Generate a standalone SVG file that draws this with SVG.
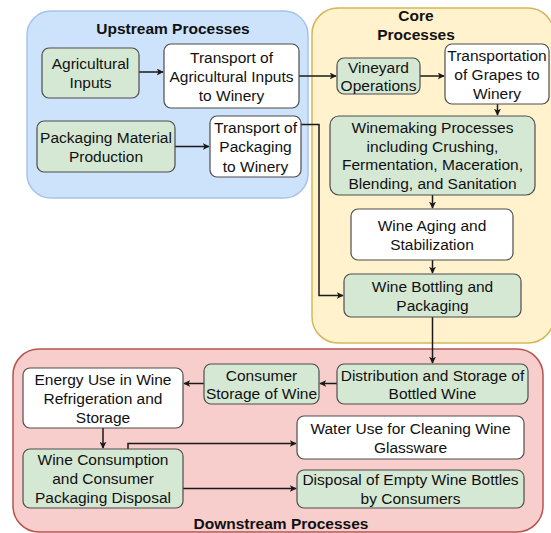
<svg xmlns="http://www.w3.org/2000/svg" width="551" height="533" viewBox="0 0 551 533">
<style>
text{font-family:"Liberation Sans",Arial,sans-serif;font-size:15.5px;fill:#111;text-anchor:middle}
.title{font-weight:bold}
.g{fill:#d5e8d4;stroke:#4d4d4d;stroke-width:1.2}
.w{fill:#ffffff;stroke:#4d4d4d;stroke-width:1.2}
.edge{fill:none;stroke:#1a1a1a;stroke-width:1.5}
</style>
<defs>
<marker id="arr" viewBox="0 0 10 10" refX="9" refY="5" markerWidth="7" markerHeight="7" markerUnits="userSpaceOnUse" orient="auto">
<path d="M0,0 L10,5 L0,10 L2.5,5 Z" fill="#1a1a1a"/>
</marker>
</defs>
<g id="upstream">
<rect x="27" y="11" width="281" height="187" rx="24" fill="#cce3fb" stroke="#a6c3ea" stroke-width="1.5"/>
<text class="title" x="173" y="33.5">Upstream Processes</text>
</g>
<g id="core">
<rect x="312" y="8" width="242" height="335" rx="26" fill="#fff2cc" stroke="#d6b656" stroke-width="1.5"/>
<text class="title" x="416" y="20.5">Core</text>
<text class="title" x="416" y="39.5">Processes</text>
</g>
<g id="downstream">
<rect x="13" y="349" width="530" height="183" rx="26" fill="#f8cecc" stroke="#b85450" stroke-width="1.5"/>
<text class="title" x="281" y="528.5">Downstream Processes</text>
</g>
<g id="connectors">
<path class="edge" d="M139,72 H163" marker-end="url(#arr)"/>
<path class="edge" d="M175,146.5 H209" marker-end="url(#arr)"/>
<path class="edge" d="M299,76 H336" marker-end="url(#arr)"/>
<path class="edge" d="M420,76 H444" marker-end="url(#arr)"/>
<path class="edge" d="M497.5,104 V115" marker-end="url(#arr)"/>
<path class="edge" d="M301,124.5 H319 V295.5 H343" marker-end="url(#arr)"/>
<path class="edge" d="M432.5,195 V208" marker-end="url(#arr)"/>
<path class="edge" d="M432.5,260 V273" marker-end="url(#arr)"/>
<path class="edge" d="M432.5,317 V363" marker-end="url(#arr)"/>
<path class="edge" d="M337,383.5 H320" marker-end="url(#arr)"/>
<path class="edge" d="M204,383.5 H184" marker-end="url(#arr)"/>
<path class="edge" d="M103,428 V448" marker-end="url(#arr)"/>
<path class="edge" d="M128,449 V443.5 H296" marker-end="url(#arr)"/>
<path class="edge" d="M183,488.5 H296" marker-end="url(#arr)"/>
</g>
<g id="agricultural-inputs">
<rect class="g" x="42" y="48" width="97" height="50" rx="7"/>
<text x="90.5" y="68.5">Agricultural</text>
<text x="90.5" y="87.5">Inputs</text>
</g>
<g id="transport-agri">
<rect class="w" x="164" y="44" width="135" height="64" rx="7"/>
<text x="231.5" y="63">Transport of</text>
<text x="231.5" y="82">Agricultural Inputs</text>
<text x="231.5" y="101">to Winery</text>
</g>
<g id="packaging-material">
<rect class="g" x="37" y="121" width="138" height="51" rx="7"/>
<text x="106" y="142.5">Packaging Material</text>
<text x="106" y="161.5">Production</text>
</g>
<g id="transport-packaging">
<rect class="w" x="210" y="116" width="91" height="61" rx="7"/>
<text x="255.5" y="132.5">Transport of</text>
<text x="255.5" y="152">Packaging</text>
<text x="255.5" y="171.5">to Winery</text>
</g>
<g id="vineyard">
<rect class="g" x="337" y="58" width="83" height="36" rx="7"/>
<text x="378.5" y="72.5">Vineyard</text>
<text x="378.5" y="91">Operations</text>
</g>
<g id="transport-grapes">
<rect class="w" x="445" y="44" width="104" height="60" rx="7"/>
<text x="497" y="60.5">Transportation</text>
<text x="497" y="80">of Grapes to</text>
<text x="497" y="99">Winery</text>
</g>
<g id="winemaking">
<rect class="g" x="330" y="116" width="205" height="79" rx="9"/>
<text x="432.5" y="132.5">Winemaking Processes</text>
<text x="432.5" y="151.5">including Crushing,</text>
<text x="432.5" y="170">Fermentation, Maceration,</text>
<text x="432.5" y="188.5">Blending, and Sanitation</text>
</g>
<g id="aging">
<rect class="w" x="351" y="209" width="162" height="51" rx="7"/>
<text x="432" y="230.5">Wine Aging and</text>
<text x="432" y="249.5">Stabilization</text>
</g>
<g id="bottling">
<rect class="g" x="344" y="274" width="177" height="43" rx="7"/>
<text x="432.5" y="292">Wine Bottling and</text>
<text x="432.5" y="311">Packaging</text>
</g>
<g id="distribution">
<rect class="g" x="337" y="364" width="191" height="40" rx="7"/>
<text x="432.5" y="380.5">Distribution and Storage of</text>
<text x="432.5" y="399">Bottled Wine</text>
</g>
<g id="consumer-storage">
<rect class="g" x="204" y="364" width="115" height="40" rx="7"/>
<text x="261.5" y="380.5">Consumer</text>
<text x="261.5" y="399">Storage of Wine</text>
</g>
<g id="energy">
<rect class="w" x="23" y="368" width="160" height="60" rx="7"/>
<text x="103" y="384.5">Energy Use in Wine</text>
<text x="103" y="403.5">Refrigeration and</text>
<text x="103" y="422.5">Storage</text>
</g>
<g id="consumption">
<rect class="g" x="23" y="449" width="160" height="59" rx="7"/>
<text x="103" y="464.5">Wine Consumption</text>
<text x="103" y="483.5">and Consumer</text>
<text x="103" y="502.5">Packaging Disposal</text>
</g>
<g id="water">
<rect class="w" x="297" y="416" width="227" height="43" rx="7"/>
<text x="410.5" y="433.5">Water Use for Cleaning Wine</text>
<text x="410.5" y="452.5">Glassware</text>
</g>
<g id="disposal">
<rect class="g" x="297" y="470" width="227" height="38" rx="7"/>
<text x="410.5" y="484.5">Disposal of Empty Wine Bottles</text>
<text x="410.5" y="503.5">by Consumers</text>
</g>
</svg>
